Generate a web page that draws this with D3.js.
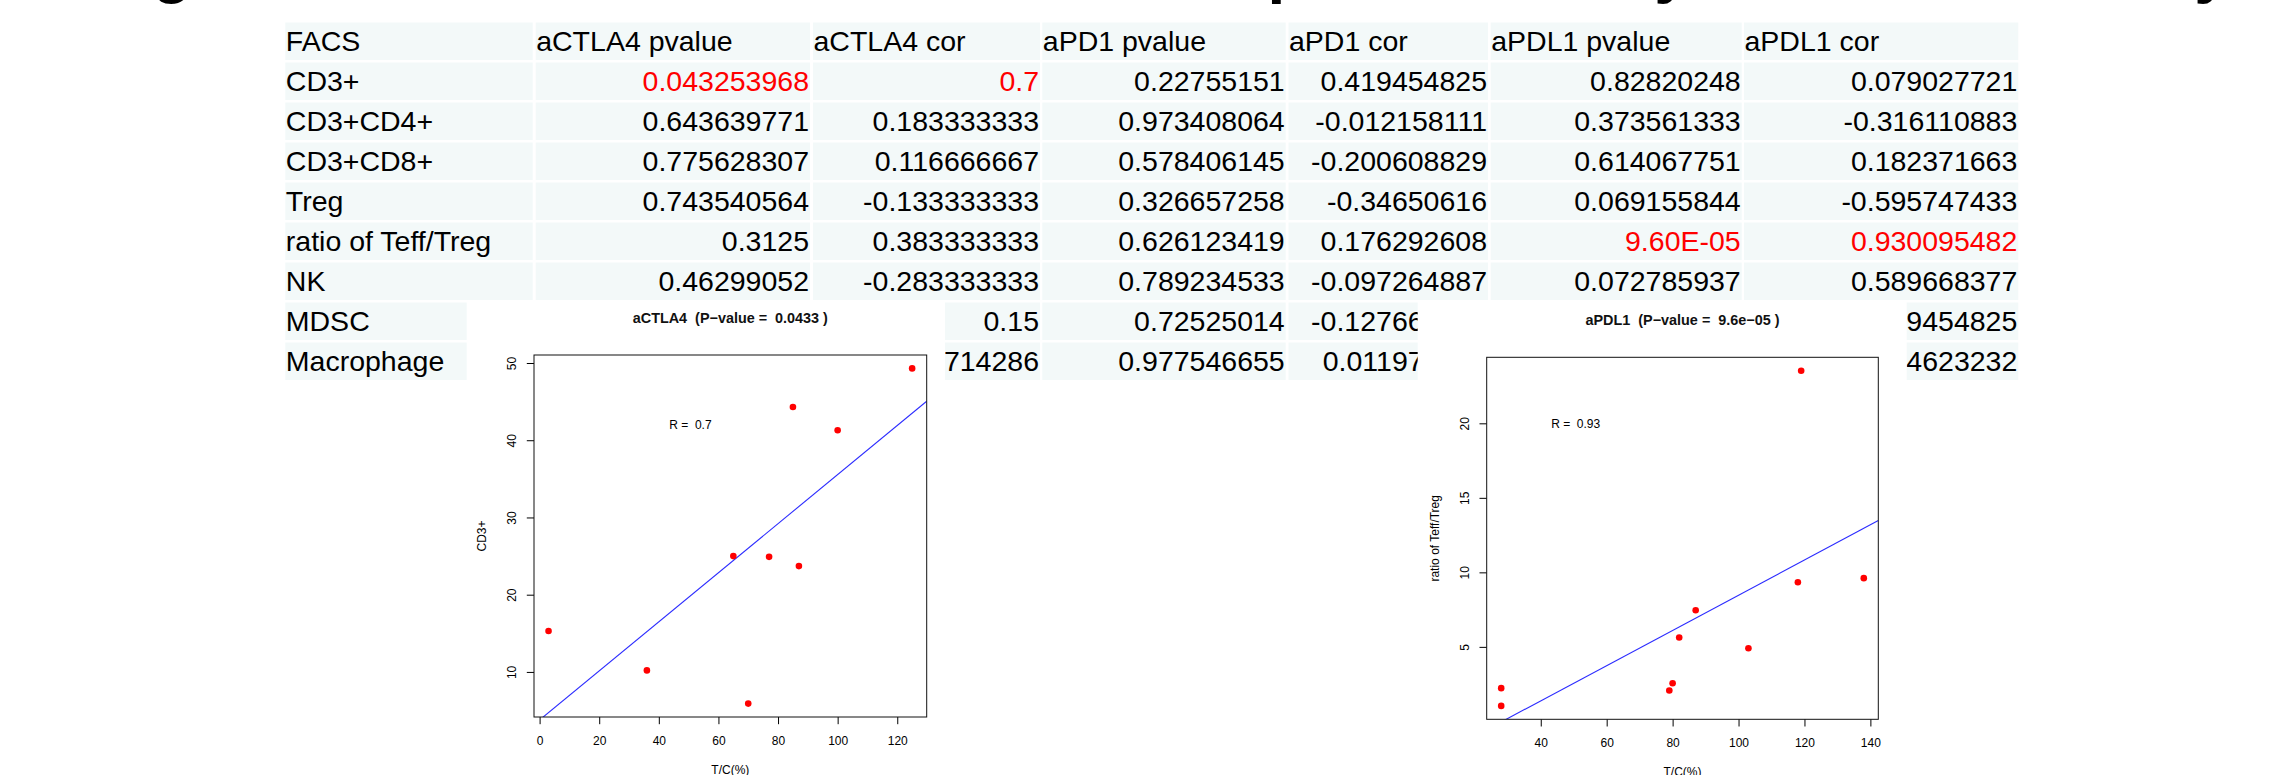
<!DOCTYPE html>
<html><head><meta charset="utf-8">
<script src="https://cdn.jsdelivr.net/npm/d3@7"></script>
<style>
html,body{margin:0;padding:0;background:#fff;}
svg{display:block;}
text{white-space:pre;}
</style></head><body>
<svg id="chart" width="2278" height="775"></svg>
<script>
// ================= DATA =================
const titleGlyphs = ["g", "p", "y", "y"];   // only the descenders of a cropped headline are visible

const header = ["FACS", "aCTLA4 pvalue", "aCTLA4 cor", "aPD1 pvalue", "aPD1 cor", "aPDL1 pvalue", "aPDL1 cor"];
const cellTypes = ["CD3+", "CD3+CD4+", "CD3+CD8+", "Treg", "ratio of Teff/Treg", "NK", "MDSC", "Macrophage"];
const aCTLA4Pvalue = ["0.043253968", "0.643639771", "0.775628307", "0.743540564", "0.3125", "0.46299052", "", ""];
const aCTLA4Cor    = ["0.7", "0.183333333", "0.116666667", "-0.133333333", "0.383333333", "-0.283333333", "0.15", "0.285714286"];
const aPD1Pvalue   = ["0.22755151", "0.973408064", "0.578406145", "0.326657258", "0.626123419", "0.789234533", "0.72525014", "0.977546655"];
const aPD1Cor      = ["0.419454825", "-0.012158111", "-0.200608829", "-0.34650616", "0.176292608", "-0.097264887", "-0.127660160", "0.011970223"];
const aPDL1Pvalue  = ["0.82820248", "0.373561333", "0.614067751", "0.069155844", "9.60E-05", "0.072785937", "", ""];
const aPDL1Cor     = ["0.079027721", "-0.316110883", "0.182371663", "-0.595747433", "0.930095482", "0.589668377", "0.419454825", "0.264623232"];
const highlighted = [["CD3+", "aCTLA4 pvalue"], ["CD3+", "aCTLA4 cor"], ["ratio of Teff/Treg", "aPDL1 pvalue"], ["ratio of Teff/Treg", "aPDL1 cor"]];

// scatter 1: aCTLA4, CD3+ vs T/C(%)
const ctla4TC  = [3, 36, 65, 70, 77, 85, 87, 100, 125];
const ctla4CD3 = [15.3, 10.2, 25.0, 5.9, 24.9, 44.3, 23.7, 41.3, 49.3];
const ctla4XTicks = [0, 20, 40, 60, 80, 100, 120];
const ctla4YTicks = [10, 20, 30, 40, 50];
// scatter 2: aPDL1, ratio of Teff/Treg vs T/C(%)
const pdl1TC    = [28, 28, 79, 80, 82, 87, 103, 118, 119, 138];
const pdl1Ratio = [2.23, 1.04, 2.07, 2.56, 5.63, 7.46, 4.91, 9.34, 23.53, 9.61];
const pdl1XTicks = [40, 60, 80, 100, 120, 140];
const pdl1YTicks = [5, 10, 15, 20];

const plotTitles = ["aCTLA4  (P\u2212value =  0.0433 )", "aPDL1  (P\u2212value =  9.6e\u221205 )"];
const rLabels = ["R =  0.7", "R =  0.93"];
const yTitles = ["CD3+", "ratio of Teff/Treg"];
const xTitle = "T/C(%)";

// ================= LAYOUT / STYLE =================
const FONT = "'Liberation Sans', Arial, Helvetica, sans-serif";
const svg = d3.select("#chart");

// cropped headline descenders
const glyphX = [172, 1287, 1672, 2212];
svg.append("g").selectAll("text").data(titleGlyphs).join("text")
  .attr("x", (d, i) => glyphX[i]).attr("y", -9.5)
  .attr("text-anchor", "middle")
  .style("font", `bold 64px ${FONT}`).attr("fill", "#000")
  .text(d => d);

// ---- table ----
const columns = [cellTypes, aCTLA4Pvalue, aCTLA4Cor, aPD1Pvalue, aPD1Cor, aPDL1Pvalue, aPDL1Cor];
const colLeft  = [285.3, 535.7, 813, 1042.3, 1288.5, 1490.7, 1744];
const colRight = [532.7, 810, 1040, 1285.7, 1488, 1741.7, 2018.3];
const xColStart = d3.scaleOrdinal(header, colLeft);
const xColEnd = d3.scaleOrdinal(header, colRight);
const rowKeys = ["__header", ...cellTypes];
const yRow = d3.scaleBand(rowKeys, [22.5, 380]).paddingInner(0.0625);

const cells = [];
header.forEach((h, ci) => {
  cells.push({row: "__header", col: h, text: h, align: "start"});
  cellTypes.forEach((r, ri) => {
    cells.push({row: r, col: h, text: columns[ci][ri], align: ci === 0 ? "start" : "end"});
  });
});
const isRed = c => highlighted.some(([r, h]) => r === c.row && h === c.col);

const tbl = svg.append("g");
tbl.selectAll("rect").data(cells).join("rect")
  .attr("x", d => xColStart(d.col))
  .attr("y", d => yRow(d.row))
  .attr("width", d => xColEnd(d.col) - xColStart(d.col))
  .attr("height", yRow.bandwidth())
  .attr("fill", "#f3f9f9");
tbl.selectAll("text").data(cells).join("text")
  .attr("x", d => d.align === "start" ? xColStart(d.col) + 0.5 : xColEnd(d.col) - 1)
  .attr("y", d => yRow(d.row) + 28.5)
  .attr("text-anchor", d => d.align)
  .attr("fill", d => isRed(d) ? "#ff0000" : "#000")
  .style("font", `28.5px ${FONT}`)
  .text(d => d.text);

// ---- scatter plots ----
function rRange(v) { const [a, b] = d3.extent(v); const p = (b - a) * 0.04; return [a - p, b + p]; }

function scatter(cfg) {
  const g = svg.append("g");
  g.append("rect").attr("x", cfg.bg[0]).attr("y", cfg.bg[1])
    .attr("width", cfg.bg[2] - cfg.bg[0]).attr("height", 775 - cfg.bg[1]).attr("fill", "#fff");
  const b = cfg.box;
  const x = d3.scaleLinear(rRange(cfg.xs), [b.l, b.r]);
  const y = d3.scaleLinear(rRange(cfg.ys), [b.b, b.t]);

  // axes
  const ax = g.append("g").attr("transform", `translate(0,${b.b})`)
    .call(d3.axisBottom(x).tickValues(cfg.xTicks).tickSize(7.2).tickPadding(12));
  ax.select(".domain").remove();
  ax.selectAll(".tick line").attr("stroke", "#000");
  ax.selectAll(".tick text").attr("fill", "#000").style("font", `12px ${FONT}`);

  const ay = g.append("g").attr("transform", `translate(${b.l},0)`)
    .call(d3.axisLeft(y).tickValues(cfg.yTicks).tickSize(7.2));
  ay.select(".domain").remove();
  ay.selectAll(".tick line").attr("stroke", "#000");
  ay.selectAll(".tick text").attr("fill", "#000").style("font", `12px ${FONT}`)
    .attr("x", 0).attr("dy", "0.36em").attr("text-anchor", "middle")
    .attr("transform", "translate(-22,0) rotate(-90)");

  // regression (least squares) line, clipped to the plot region
  const mx = d3.mean(cfg.xs), my = d3.mean(cfg.ys);
  const slope = d3.sum(cfg.xs, (v, i) => (v - mx) * (cfg.ys[i] - my)) / d3.sum(cfg.xs, v => (v - mx) ** 2);
  const icpt = my - slope * mx;
  const clipId = "clip" + cfg.id;
  g.append("clipPath").attr("id", clipId).append("rect")
    .attr("x", b.l).attr("y", b.t).attr("width", b.r - b.l).attr("height", b.b - b.t);
  const xd = x.domain();
  g.append("line").attr("clip-path", `url(#${clipId})`)
    .attr("x1", x(xd[0])).attr("y1", y(icpt + slope * xd[0]))
    .attr("x2", x(xd[1])).attr("y2", y(icpt + slope * xd[1]))
    .attr("stroke", "#2b2bff").attr("stroke-width", 1.1);

  // points
  g.selectAll("circle").data(cfg.xs).join("circle")
    .attr("cx", d => x(d)).attr("cy", (d, i) => y(cfg.ys[i]))
    .attr("r", 3.3).attr("fill", "#ff0000");

  // box
  g.append("rect").attr("x", b.l).attr("y", b.t).attr("width", b.r - b.l).attr("height", b.b - b.t)
    .attr("fill", "none").attr("stroke", "#111").attr("stroke-width", 1);

  // texts
  g.append("text").attr("x", (b.l + b.r) / 2).attr("y", b.t - 32.3)
    .attr("text-anchor", "middle").style("font", `bold 14.4px ${FONT}`).attr("fill", "#111")
    .text(cfg.title);
  g.append("text").attr("x", x(cfg.rAt[0])).attr("y", y(cfg.rAt[1])).attr("dy", "0.36em")
    .attr("text-anchor", "middle").style("font", `12px ${FONT}`).attr("fill", "#000")
    .text(cfg.rLabel);
  g.append("text").attr("transform", `translate(${b.l - 52},${(b.t + b.b) / 2}) rotate(-90)`)
    .attr("dy", "0.36em").attr("text-anchor", "middle").style("font", `12px ${FONT}`).attr("fill", "#000")
    .text(cfg.yTitle);
  g.append("text").attr("x", (b.l + b.r) / 2).attr("y", b.b + 57)
    .attr("text-anchor", "middle").style("font", `12px ${FONT}`).attr("fill", "#000")
    .text(xTitle);
}

scatter({
  id: 1, bg: [466.7, 301, 945], box: {l: 534, r: 926.7, t: 355, b: 717},
  xs: ctla4TC, ys: ctla4CD3, xTicks: ctla4XTicks, yTicks: ctla4YTicks,
  title: plotTitles[0], rLabel: rLabels[0], rAt: [50.6, 42], yTitle: yTitles[0]
});
scatter({
  id: 2, bg: [1417.7, 301, 1906.7], box: {l: 1486.7, r: 1878.3, t: 357.3, b: 719.3},
  xs: pdl1TC, ys: pdl1Ratio, xTicks: pdl1XTicks, yTicks: pdl1YTicks,
  title: plotTitles[1], rLabel: rLabels[1], rAt: [50.6, 20], yTitle: yTitles[1]
});
</script>
</body></html>
